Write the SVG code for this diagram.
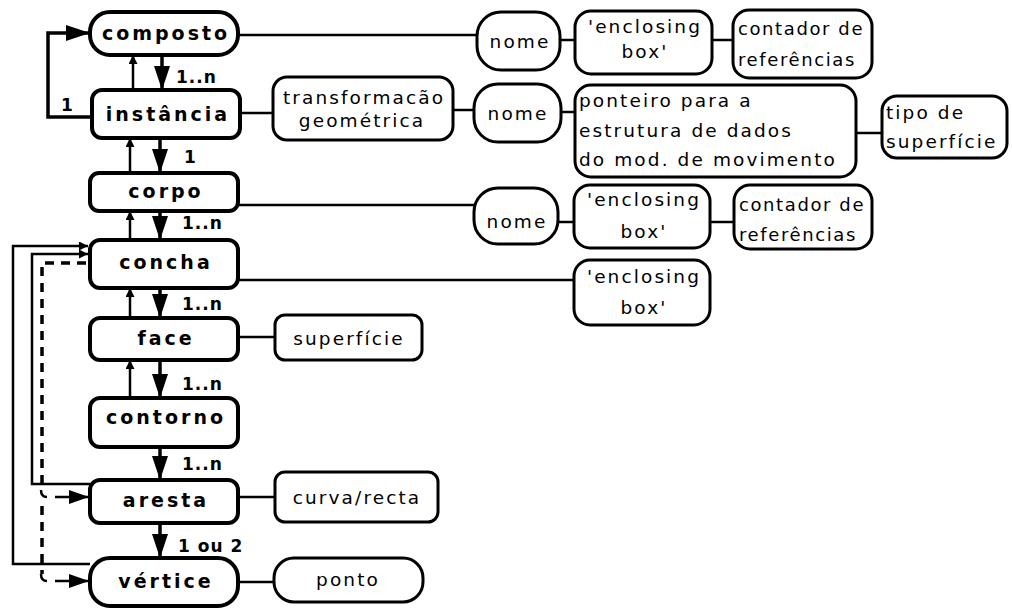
<svg xmlns="http://www.w3.org/2000/svg" width="1012" height="610" viewBox="0 0 1012 610">
<style>
.bg{fill:#fff}
.main{fill:#fff;stroke:#000;stroke-width:4}
.attr{fill:#fff;stroke:#000;stroke-width:3}
.ln{fill:none;stroke:#000;stroke-width:2.5}
.lnb{fill:none;stroke:#000;stroke-width:3.5}
.dash{fill:none;stroke:#000;stroke-width:3.5;stroke-dasharray:9 7}
.nt{font-family:"DejaVu Sans",sans-serif;font-weight:bold;font-size:19px;letter-spacing:3px;text-anchor:middle;fill:#000}
.at{font-family:"DejaVu Sans",sans-serif;font-size:18.5px;letter-spacing:2.1px;fill:#000}
.atn{font-family:"DejaVu Sans",sans-serif;font-size:18px;letter-spacing:1.6px;fill:#000}
.atc{font-family:"DejaVu Sans",sans-serif;font-size:18.5px;letter-spacing:2.1px;text-anchor:middle;fill:#000}
.lb{font-family:"DejaVu Sans",sans-serif;font-weight:bold;font-size:17px;letter-spacing:1px;fill:#000}
</style>
<defs>
<marker id="big" viewBox="0 0 24 16" refX="24" refY="8" markerWidth="24" markerHeight="16" markerUnits="userSpaceOnUse" orient="auto"><path d="M0,0 L24,8 L0,16 z" fill="#000"/></marker>
<marker id="sm" viewBox="0 0 9 9" refX="9" refY="4.5" markerWidth="9" markerHeight="9" markerUnits="userSpaceOnUse" orient="auto"><path d="M0,0 L9,4.5 L0,9 z" fill="#000"/></marker>
<marker id="mid" viewBox="0 0 20 14" refX="20" refY="7" markerWidth="20" markerHeight="14" markerUnits="userSpaceOnUse" orient="auto"><path d="M0,0 L20,7 L0,14 z" fill="#000"/></marker>
</defs>
<rect class="bg" x="0" y="0" width="1012" height="610"/>

<g id="connectors">
<path class="lnb" d="M162 55 V90" marker-end="url(#big)"/>
<path class="lnb" d="M160 138 V173" marker-end="url(#big)"/>
<path class="lnb" d="M160 211 V240" marker-end="url(#big)"/>
<path class="lnb" d="M160 288 V318" marker-end="url(#big)"/>
<path class="lnb" d="M160 360 V398" marker-end="url(#big)"/>
<path class="lnb" d="M160 447 V480" marker-end="url(#big)"/>
<path class="lnb" d="M160 523 V558" marker-end="url(#big)"/>
<path class="ln" d="M133 90 V55" marker-end="url(#sm)"/>
<path class="ln" d="M130 173 V138" marker-end="url(#sm)"/>
<path class="ln" d="M130 240 V211" marker-end="url(#sm)"/>
<path class="ln" d="M130 318 V288" marker-end="url(#sm)"/>
<path class="ln" d="M130 398 V360" marker-end="url(#sm)"/>
<text class="lb" x="176" y="83">1..n</text>
<text class="lb" x="184" y="163">1</text>
<text class="lb" x="182" y="229">1..n</text>
<text class="lb" x="182" y="310">1..n</text>
<text class="lb" x="182" y="390">1..n</text>
<text class="lb" x="182" y="470">1..n</text>
<text class="lb" x="178" y="552">1 ou 2</text>
<path class="lnb" d="M92 117 H48 V33 H90" marker-end="url(#big)"/>
<text class="lb" x="61" y="111">1</text>
<path class="ln" d="M90 564 H13 V246 H88" marker-end="url(#sm)"/>
<path class="ln" d="M90 484 H32 V254 H88" marker-end="url(#sm)"/>
<path class="dash" d="M86 263 H42 V488"/>
<path class="dash" d="M42 506 V574"/>
<path class="ln" d="M41 490 Q41 497 47 497"/>
<path class="ln" d="M41 574 Q41 581 47 581"/>
<path class="ln" d="M55 497 H89" marker-end="url(#mid)"/>
<path class="ln" d="M55 581 H89" marker-end="url(#mid)"/>
<path class="ln" d="M238 35 H477"/>
<path class="ln" d="M560 40 H575"/>
<path class="ln" d="M712 40 H733"/>
<path class="ln" d="M240 113 H273"/>
<path class="ln" d="M453 110 H474"/>
<path class="ln" d="M561 112 H575"/>
<path class="ln" d="M856 133 H882"/>
<path class="ln" d="M238 205 H474"/>
<path class="ln" d="M558 222 H574"/>
<path class="ln" d="M710 222 H734"/>
<path class="ln" d="M238 280 H574"/>
<path class="ln" d="M238 337 H275"/>
<path class="ln" d="M238 497 H275"/>
<path class="ln" d="M238 582 H274"/>
</g>

<g id="composto"><rect class="main" x="90" y="12" width="148" height="43" rx="20"/><text class="nt" x="166" y="40">composto</text></g>
<g id="instancia"><rect class="main" x="92" y="90" width="148" height="48" rx="10"/><text class="nt" x="168" y="121">instância</text></g>
<g id="corpo"><rect class="main" x="90" y="173" width="148" height="38" rx="9"/><text class="nt" x="166" y="198">corpo</text></g>
<g id="concha"><rect class="main" x="90" y="240" width="148" height="48" rx="10"/><text class="nt" x="166" y="269">concha</text></g>
<g id="face"><rect class="main" x="90" y="318" width="148" height="42" rx="10"/><text class="nt" x="166" y="345">face</text></g>
<g id="contorno"><rect class="main" x="90" y="398" width="148" height="49" rx="10"/><text class="nt" x="166" y="424">contorno</text></g>
<g id="aresta"><rect class="main" x="90" y="480" width="148" height="43" rx="10"/><text class="nt" x="166" y="507">aresta</text></g>
<g id="vertice"><rect class="main" x="90" y="558" width="148" height="48" rx="20"/><text class="nt" x="166" y="588">vértice</text></g>

<g id="nome1"><rect class="attr" x="477" y="12" width="83" height="58" rx="24"/><text class="atc" x="520" y="48">nome</text></g>
<g id="enclosing1"><rect class="attr" x="575" y="11" width="137" height="63" rx="16"/><text class="atc" x="645" y="33">'enclosing</text><text class="atc" x="645" y="58">box'</text></g>
<g id="contador1"><rect class="attr" x="733" y="10" width="139" height="68" rx="16"/><text class="atn" x="738" y="35">contador de</text><text class="atn" x="738" y="66">referências</text></g>

<g id="transformacao"><rect class="attr" x="273" y="77" width="180" height="63" rx="14"/><text class="atc" x="364" y="104">transformacão</text><text class="atc" x="362" y="127">geométrica</text></g>
<g id="nome2"><rect class="attr" x="474" y="84" width="87" height="58" rx="24"/><text class="atc" x="518" y="120">nome</text></g>
<g id="ponteiro"><rect class="attr" x="575" y="85" width="281" height="92" rx="16"/><text class="at" x="579" y="107">ponteiro para a</text><text class="at" x="579" y="137">estrutura de dados</text><text class="at" x="579" y="166">do mod. de movimento</text></g>
<g id="tipo"><rect class="attr" x="882" y="96" width="125" height="62" rx="15"/><text class="at" x="886" y="119">tipo de</text><text class="at" x="886" y="148">superfície</text></g>

<g id="nome3"><rect class="attr" x="474" y="188" width="84" height="56" rx="24"/><text class="atc" x="517" y="228">nome</text></g>
<g id="enclosing3"><rect class="attr" x="574" y="185" width="136" height="63" rx="16"/><text class="atc" x="644" y="206">'enclosing</text><text class="atc" x="644" y="238">box'</text></g>
<g id="contador3"><rect class="attr" x="734" y="185" width="138" height="64" rx="16"/><text class="atn" x="739" y="211">contador de</text><text class="atn" x="739" y="241">referências</text></g>

<g id="enclosing4"><rect class="attr" x="574" y="260" width="136" height="65" rx="16"/><text class="atc" x="644" y="283">'enclosing</text><text class="atc" x="644" y="314">box'</text></g>
<g id="superficie"><rect class="attr" x="275" y="315" width="147" height="45" rx="10"/><text class="atc" x="349" y="345">superfície</text></g>
<g id="curva"><rect class="attr" x="275" y="472" width="163" height="50" rx="10"/><text class="atc" x="357" y="504">curva/recta</text></g>
<g id="ponto"><rect class="attr" x="274" y="558" width="149" height="44" rx="20"/><text class="atc" x="348" y="586">ponto</text></g>
</svg>
